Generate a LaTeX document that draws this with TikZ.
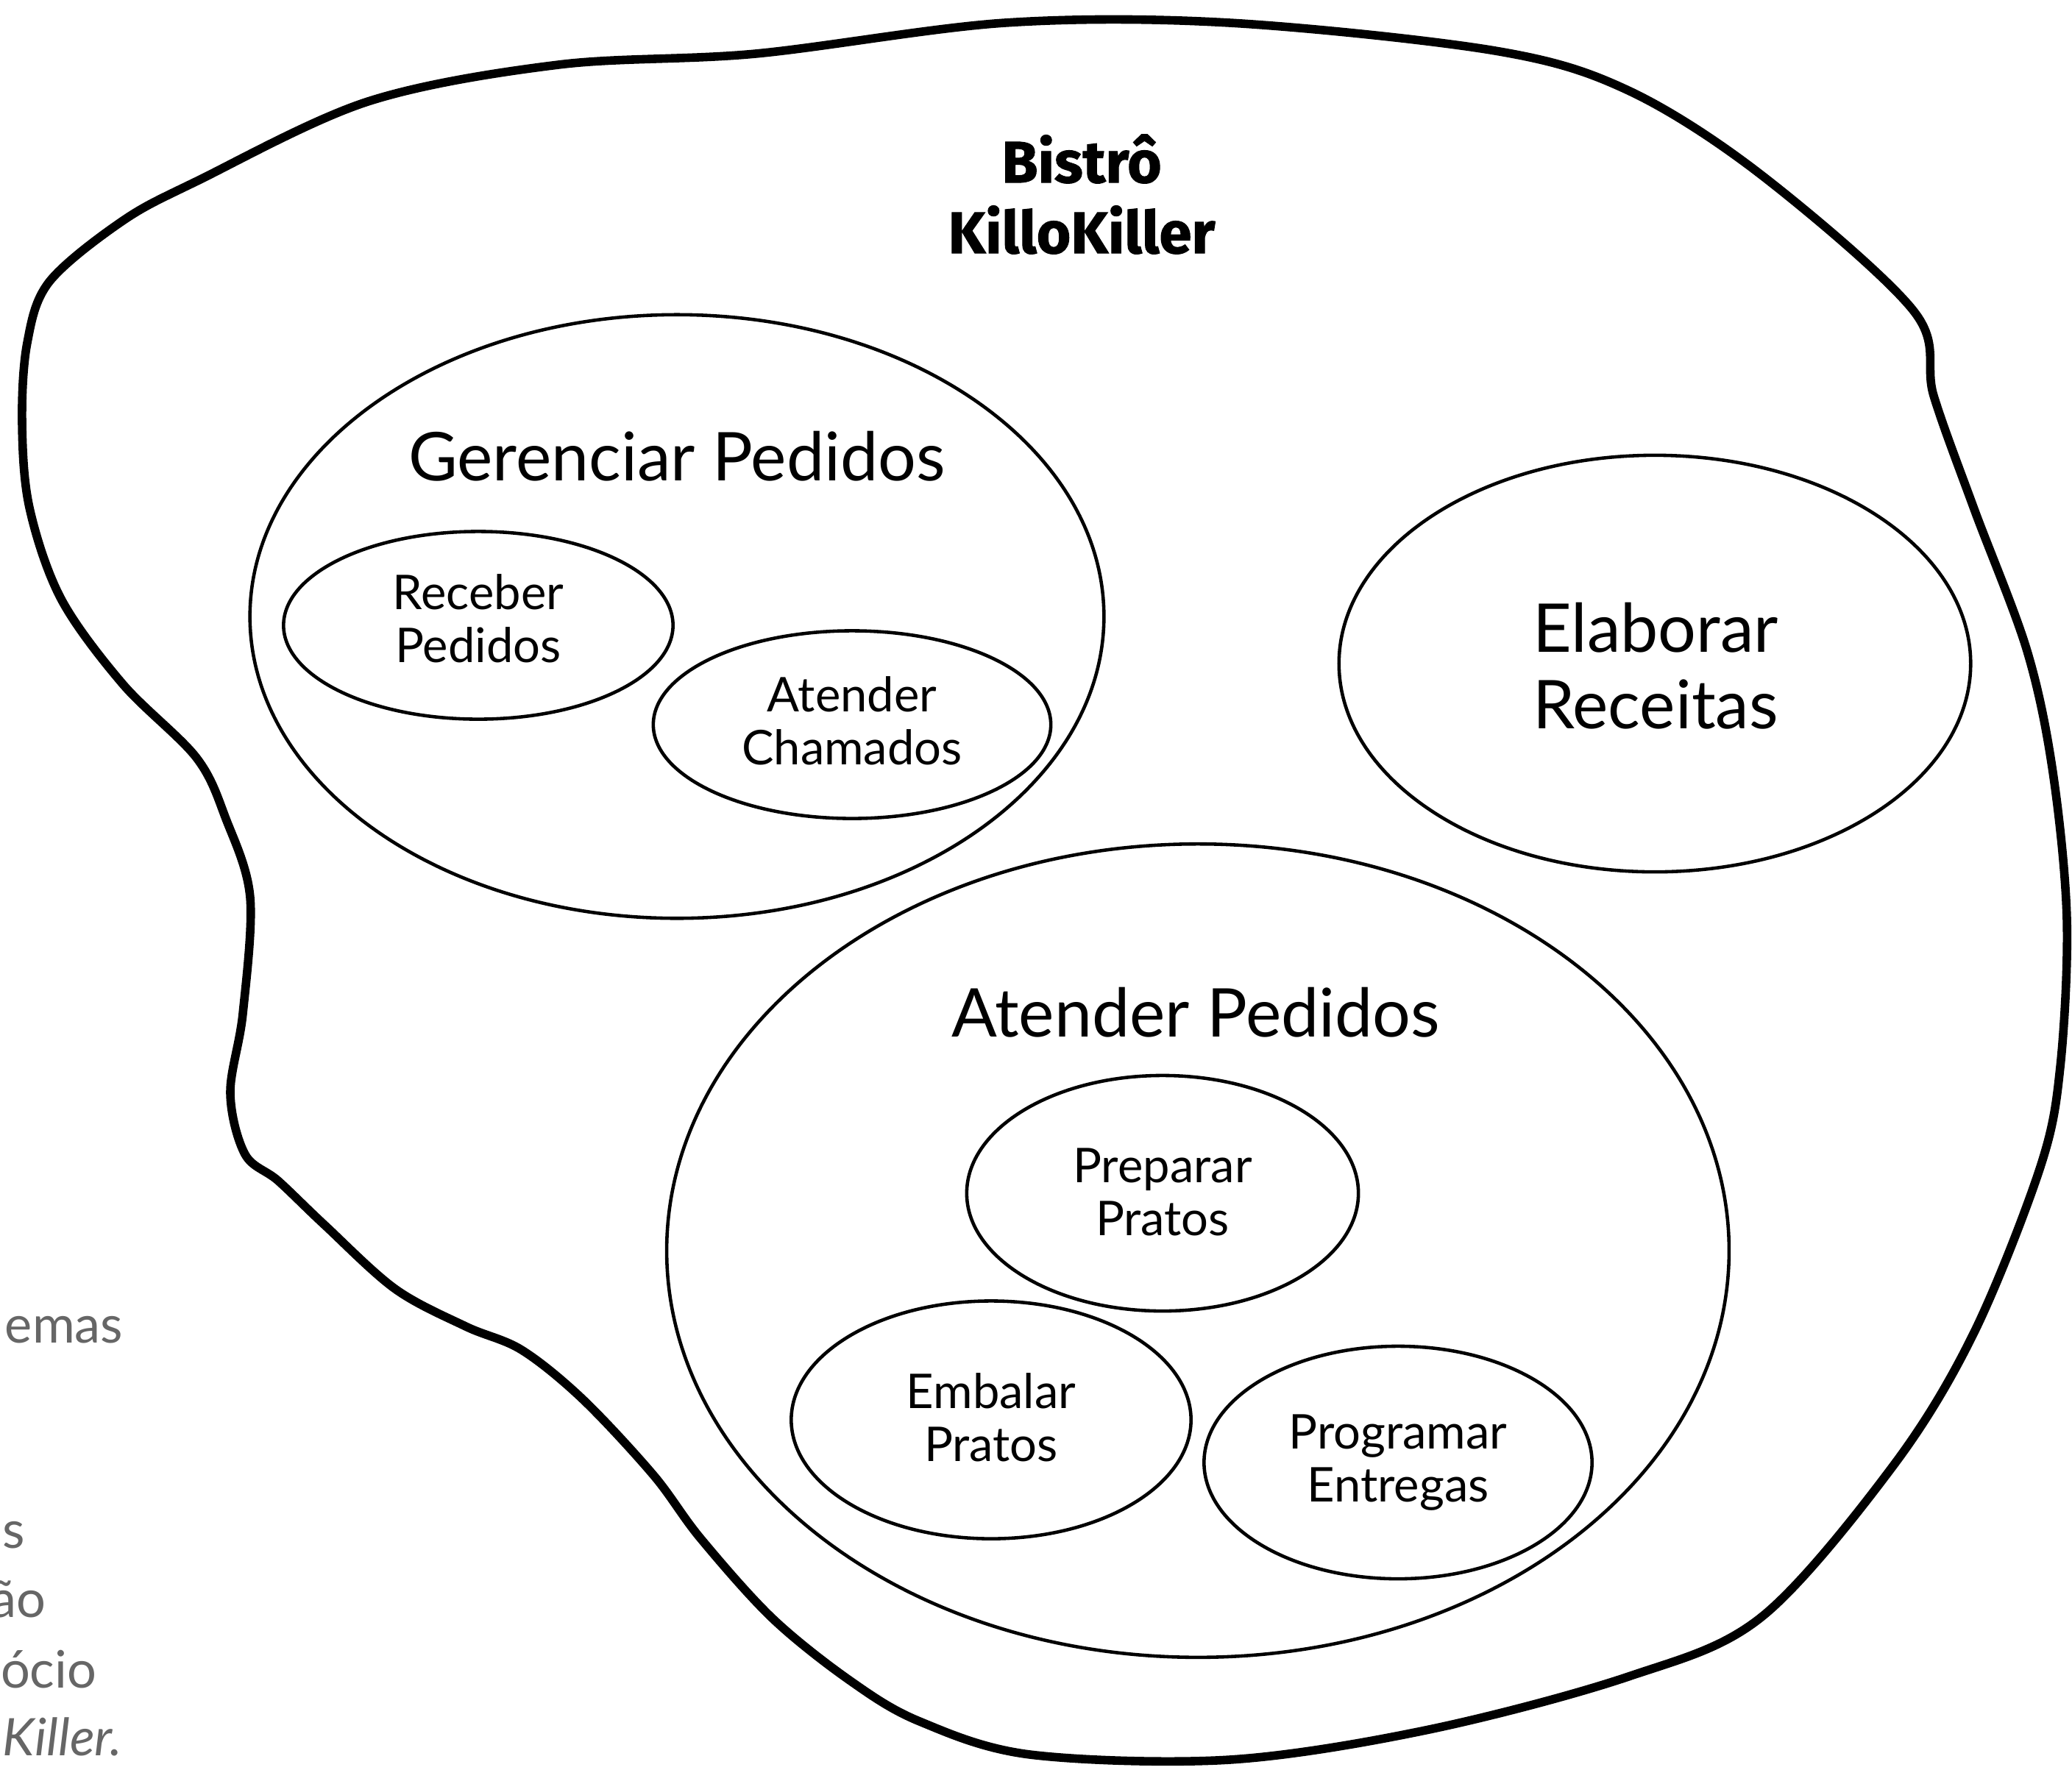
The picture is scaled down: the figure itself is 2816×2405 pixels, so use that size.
\documentclass[tikz,border=0pt]{standalone}
\usepackage{fontspec}
\setmainfont{Lato}
\newfontfamily\titlefont{Fira Sans}[BoldFeatures={FakeBold=1.2}]
\usetikzlibrary{shapes.geometric}
\definecolor{sidegray}{HTML}{666666}
\tikzset{
  bubble/.style={draw,ellipse,line width=1.3pt,inner sep=0pt},
  smalltxt/.style={align=center,font=\fontsize{18.5}{20.5}\selectfont},
  midtxt/.style={align=center,font=\fontsize{26}{29.6}\selectfont},
  bigtxt/.style={align=center,font=\fontsize{26}{29}\selectfont},
  titletxt/.style={align=center,font=\titlefont\bfseries\fontsize{22.7}{27.3}\selectfont},
  sidetxt/.style={anchor=base east,inner sep=0pt,text=sidegray,font=\fontsize{20}{24}\selectfont}
}
\begin{document}
\begin{tikzpicture}[x=0.01cm,y=-0.01cm]
\useasboundingbox (0,0) rectangle (2816,2405);
\clip (0,0) rectangle (2816,2405);
% the bistro
\draw[line width=3.3pt,line join=round] plot[smooth cycle,tension=0.55] coordinates {
  (1366,31) (1671,31) (2032,69) (2213,123) (2394,238) (2601,423) (2628,538)
  (2683,692) (2755,885) (2790,1050) (2809,1250) (2800,1450) (2773,1586)
  (2683,1811) (2574,1991) (2394,2198) (2213,2279) (1942,2351) (1671,2392)
  (1400,2385) (1250,2340) (1156,2285) (1050,2200) (952,2091) (888,2005)
  (792,1902) (709,1835) (633,1803) (537,1752) (441,1665) (378,1605)
  (333,1569) (313,1486) (330,1378) (340,1220) (307,1113) (267,1030)
  (167,930) (83,814) (40,690) (30,574) (37,466) (67,383) (167,300)
  (268,246) (500,138) (759,88) (1027,73)};
\node[titletxt] (bistro) at (1470,264) {Bistrô\\KilloKiller};
% gerenciar pedidos
\node[bubble,minimum width=11.6cm,minimum height=8.2cm] (gerenciar) at (920,838) {};
\node[bigtxt] (gerenciarTxt) at (920,620) {Gerenciar Pedidos};
\node[bubble,minimum width=5.29cm,minimum height=2.55cm] (receber) at (650,850) {};
\node[smalltxt] (receberTxt) at (650,841) {Receber\\Pedidos};
\node[bubble,minimum width=5.4cm,minimum height=2.55cm] (chamados) at (1158,985) {};
\node[smalltxt] (chamadosTxt) at (1158,980) {Atender\\Chamados};
% elaborar receitas
\node[bubble,minimum width=8.58cm,minimum height=5.66cm] (elaborar) at (2249,902) {};
\node[midtxt] (elaborarTxt) at (2250,905) {Elaborar\\Receitas};
% atender pedidos
\node[bubble,minimum width=14.43cm,minimum height=11.05cm] (atender) at (1628,1700) {};
\node[bigtxt] (atenderTxt) at (1625,1376) {Atender Pedidos};
\node[bubble,minimum width=5.32cm,minimum height=3.2cm] (preparar) at (1580,1622) {};
\node[smalltxt] (prepararTxt) at (1580,1620) {Preparar\\Pratos};
\node[bubble,minimum width=5.43cm,minimum height=3.23cm] (embalar) at (1347,1930) {};
\node[smalltxt] (embalarTxt) at (1347,1927) {Embalar\\Pratos};
\node[bubble,minimum width=5.27cm,minimum height=3.16cm] (programar) at (1900,1988) {};
\node[smalltxt] (programarTxt) at (1900,1988) {Programar\\Entregas};
% side text, cut at the left edge
\node[sidetxt] (side1) at (168,1825) {emas};
\node[sidetxt] (side2) at (35,2104) {as};
\node[sidetxt] (side3) at (63,2198) {ão};
\node[sidetxt] (side4) at (132,2294) {ócio};
\node[sidetxt] (side5) at (167,2386) {\itshape Killer.};
\end{tikzpicture}
\end{document}
